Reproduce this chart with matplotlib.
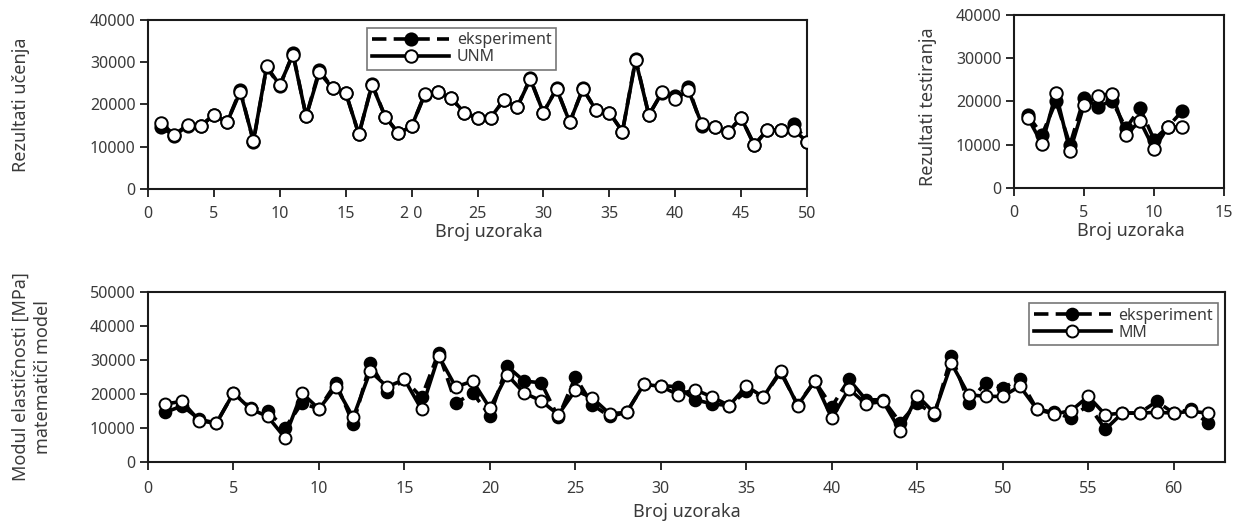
import matplotlib
matplotlib.use("Agg")
import matplotlib.pyplot as plt

plt.rcParams['font.family'] = ['Noto Sans', 'DejaVu Sans']
TXT = '#3a3a3a'

# ---------------- data ----------------
# Top-left: learning results (50 samples)
learn_x = list(range(1, 51))
learn_unm = [15600, 12800, 15200, 15000, 17600, 15800, 23000, 11400, 29000, 24600,
             31800, 17200, 27600, 23800, 22800, 13000, 24600, 17100, 13200, 14800,
             22500, 22900, 21500, 18100, 16900, 16900, 21100, 19300, 26000, 18100,
             23700, 15800, 23700, 18600, 18100, 13600, 30500, 17500, 22900, 21300,
             23400, 15500, 14600, 13400, 16900, 10300, 14000, 14000, 14000, 11200]
learn_exp = [14600, 12600, 15000, 15000, 17400, 15800, 23400, 11200, 28800, 24400,
             32100, 17200, 28200, 23800, 22800, 12900, 24800, 17100, 13200, 14800,
             22300, 22900, 21500, 18000, 16700, 16900, 21000, 19300, 26200, 18100,
             23800, 15800, 23800, 18600, 18100, 13600, 30800, 17500, 22800, 22000,
             24200, 14900, 14600, 13400, 16900, 10500, 14000, 14000, 15500, 11200]
learn_xticks = [0, 5, 10, 15, 20, 25, 30, 35, 40, 45, 50]
learn_xticklabels = ['0', '5', '10', '15', '2 0', '25', '30', '35', '40', '45', '50']
learn_yticks = [0, 10000, 20000, 30000, 40000]

# Top-right: testing results (12 samples)
test_x = list(range(1, 13))
test_unm = [16200, 10200, 21900, 8500, 19200, 21300, 21800, 12300, 15500, 9000, 14100, 14100]
test_exp = [16800, 12300, 20000, 10000, 20800, 18800, 20200, 13800, 18500, 11200, 14200, 17700]
test_xticks = [0, 5, 10, 15]
test_yticks = [0, 10000, 20000, 30000, 40000]

# Bottom: elastic modulus, mathematical model (62 samples)
mm_x = list(range(1, 63))
mm_model = [17100, 17800, 12100, 11400, 20300, 15600, 13400, 7200, 20300, 15600,
            22100, 13100, 26700, 22100, 24300, 15500, 31200, 22100, 23800, 15800,
            25700, 20300, 18000, 13900, 21100, 18800, 14200, 14600, 22800, 22300,
            19800, 21300, 19100, 16600, 22300, 19100, 26900, 16600, 23800, 12900,
            21500, 17100, 17800, 9200, 19500, 14400, 29000, 19800, 19300, 19300,
            22300, 15500, 14100, 15100, 19300, 13900, 14400, 14400, 14600, 14400,
            14900, 14400]
mm_exp = [14600, 16500, 12600, 11400, 20300, 16000, 14900, 9900, 17300, 15600,
          23300, 11200, 29000, 20500, 24300, 19000, 32200, 17300, 20300, 13600,
          28200, 23800, 23300, 13100, 25000, 16800, 13400, 14600, 22800, 22500,
          22100, 18300, 17100, 16600, 20800, 19100, 26400, 16900, 23800, 16300,
          24300, 18300, 18300, 11600, 17300, 13900, 31200, 17500, 23300, 21800,
          24300, 15500, 14600, 12900, 16800, 9600, 14400, 14400, 17800, 14400,
          15500, 11400]
mm_xticks = [0, 5, 10, 15, 20, 25, 30, 35, 40, 45, 50, 55, 60]
mm_yticks = [0, 10000, 20000, 30000, 40000, 50000]

# ---------------- figure ----------------
W, H = 1234, 525
fig = plt.figure(figsize=(W / 100, H / 100), dpi=100)

def rect(l, t, r, b):
    return [l / W, 1 - b / H, (r - l) / W, (b - t) / H]

ax1 = fig.add_axes(rect(148, 20, 807, 189))
ax2 = fig.add_axes(rect(1014, 15, 1224, 188))
ax3 = fig.add_axes(rect(148, 292, 1225, 462))

LW = 2.6
FS = 11.5

def draw(ax, x, exp, mod, lab, ms):
    h1, = ax.plot(x, exp, linestyle='--', color='black', lw=LW, marker='o', ms=ms,
                  mfc='black', mec='black', mew=1.2, label='eksperiment', zorder=2,
                  dashes=(4, 2))
    h2, = ax.plot(x, mod, linestyle='-', color='black', lw=LW, marker='o', ms=ms,
                  mfc='white', mec='black', mew=1.4, label=lab, zorder=3)
    return h1, h2

def style(ax, xpad=6):
    for s in ax.spines.values():
        s.set_linewidth(1.5)
        s.set_color('#1a1a1a')
    ax.tick_params(direction='out', length=6, width=1.3, colors='#1a1a1a',
                   labelsize=FS, labelcolor=TXT, pad=3)
    ax.tick_params(axis='x', pad=xpad)

def make_legend(ax, **kw):
    leg = ax.legend(fontsize=FS, frameon=True, fancybox=False, edgecolor='#555555',
                    handlelength=4.8, borderpad=0.3, labelspacing=0.05,
                    handletextpad=0.5, borderaxespad=0, **kw)
    leg.get_frame().set_linewidth(1.2)
    for t in leg.get_texts():
        t.set_color(TXT)
    return leg

# top-left
draw(ax1, learn_x, learn_exp, learn_unm, 'UNM', 9)
ax1.set_xlim(0, 50)
ax1.set_ylim(0, 40000)
ax1.set_xticks(learn_xticks)
ax1.set_xticklabels(learn_xticklabels)
ax1.set_yticks(learn_yticks)
style(ax1)
ax1.set_xlabel('Broj uzoraka', fontsize=13, color=TXT, labelpad=1)
ax1.xaxis.label.set_x(0.518)
ax1.set_ylabel('Rezultati učenja', fontsize=13, color=TXT)
ax1.yaxis.set_label_coords(-0.179, 0.5)
make_legend(ax1, loc='upper left', bbox_to_anchor=(0.333, 0.955))

# top-right
draw(ax2, test_x, test_exp, test_unm, 'UNM', 9)
ax2.set_xlim(0, 15)
ax2.set_ylim(0, 40000)
ax2.set_xticks(test_xticks)
ax2.set_yticks(test_yticks)
style(ax2)
ax2.set_xlabel('Broj uzoraka', fontsize=13, color=TXT, labelpad=1)
ax2.xaxis.label.set_x(0.557)
ax2.set_ylabel('Rezultati testiranja', fontsize=13, color=TXT)
ax2.yaxis.set_label_coords(-0.367, 0.47)

# bottom
draw(ax3, mm_x, mm_exp, mm_model, 'MM', 8.6)
ax3.set_xlim(0, 63)
ax3.set_ylim(0, 50000)
ax3.set_xticks(mm_xticks)
ax3.set_yticks(mm_yticks)
style(ax3, xpad=8)
ax3.set_xlabel('Broj uzoraka', fontsize=13, color=TXT, labelpad=4)
ax3.set_ylabel('Modul elastičnosti [MPa]\nmatematiči model', fontsize=13, color=TXT,
               linespacing=1.3)
ax3.yaxis.set_label_coords(-0.089, 0.5)
make_legend(ax3, loc='upper right', bbox_to_anchor=(0.9935, 0.935))

fig.savefig('out.png', dpi=100)
